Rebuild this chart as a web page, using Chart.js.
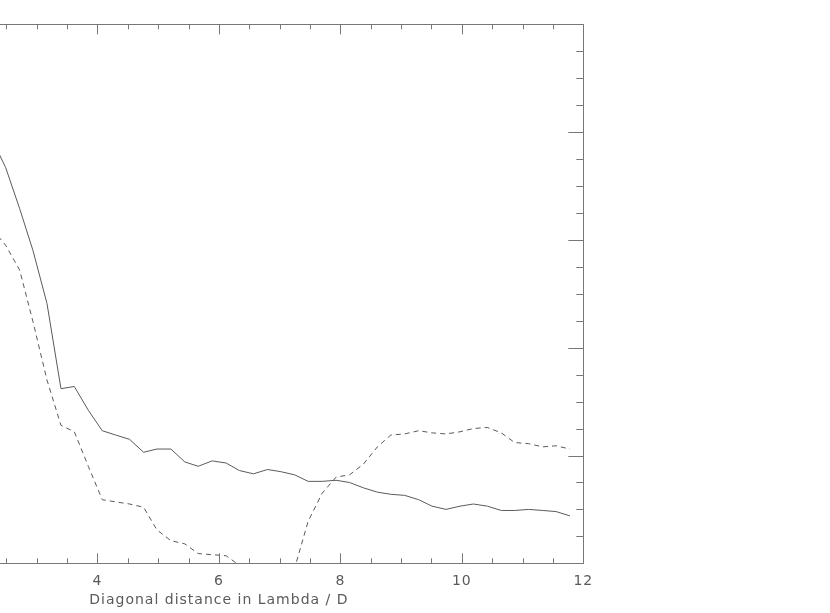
<!DOCTYPE html>
<html>
<head>
<meta charset="utf-8">
<script src="https://cdn.jsdelivr.net/npm/chart.js@4/dist/chart.umd.min.js"></script>
<style>
  html, body { margin: 0; padding: 0; background: #fff; overflow: hidden; }
  #wrap { position: absolute; left: -160px; top: 0; width: 990px; height: 613px; }
</style>
</head>
<body>
<div id="wrap"><canvas id="chart" width="990" height="613"></canvas></div>
<script>
// distance in lambda/D (sample positions)
const distances = [2.27, 2.49, 2.72, 2.94, 3.17, 3.40, 3.62, 3.85, 4.08, 4.30,
  4.53, 4.76, 4.98, 5.21, 5.44, 5.66, 5.89, 6.12, 6.34, 6.57,
  6.80, 7.02, 7.25, 7.47, 7.70, 7.93, 8.15, 8.38, 8.61, 8.83,
  9.06, 9.29, 9.51, 9.74, 9.97, 10.19, 10.42, 10.65, 10.87, 11.10,
  11.33, 11.55, 11.78];

// solid curve
const solidVals = [3.93, 3.67, 3.29, 2.90, 2.41, 1.62, 1.64, 1.42, 1.23, 1.19,
  1.15, 1.03, 1.06, 1.06, 0.94, 0.90, 0.95, 0.93, 0.86, 0.83,
  0.87, 0.85, 0.82, 0.76, 0.76, 0.77, 0.75, 0.70, 0.66, 0.64,
  0.63, 0.59, 0.53, 0.50, 0.53, 0.55, 0.53, 0.49, 0.49, 0.50,
  0.49, 0.48, 0.44];

// dashed curve
const dashedVals = [3.10, 2.95, 2.72, 2.24, 1.70, 1.28, 1.22, 0.90, 0.59, 0.57,
  0.55, 0.52, 0.31, 0.21, 0.18, 0.09, 0.08, 0.07, -0.02, -0.15,
  -0.25, -0.20, -0.04, 0.39, 0.65, 0.80, 0.82, 0.92, 1.08, 1.19,
  1.20, 1.23, 1.21, 1.20, 1.22, 1.25, 1.26, 1.21, 1.12, 1.11,
  1.08, 1.09, 1.06];

const xTickStep = 2;
const xTitle = "Diagonal distance in Lambda / D";

const ink = "#5a5a5a";
const axisInk = "#777";

// wider lettering, closer to the old vector font
const wideText = {
  id: "wideText",
  beforeDraw(chart) { chart.ctx.letterSpacing = "1px"; }
};

/* inward ticks on all four sides, like the old plot */
const frameTicks = {
  id: "frameTicks",
  afterDraw(chart) {
    const { ctx, chartArea: { left, right, top, bottom }, scales: { x, y } } = chart;
    ctx.save();
    ctx.strokeStyle = axisInk;
    ctx.lineWidth = 1;
    ctx.beginPath();
    ctx.rect(Math.round(left) + 0.5, Math.round(top) + 0.5,
      Math.round(right - left), Math.round(bottom - top));
    ctx.stroke();

    ctx.beginPath();
    for (let v = x.min; v <= x.max + 1e-6; v += 0.5) {
      const px = Math.round(x.getPixelForValue(v)) + 0.5;
      const len = Math.abs(v % 2) < 1e-6 ? 10 : 5;
      ctx.moveTo(px, bottom); ctx.lineTo(px, bottom - len);
      ctx.moveTo(px, top); ctx.lineTo(px, top + len);
    }
    for (let v = y.min; v <= y.max + 1e-6; v += 0.25) {
      const py = Math.round(y.getPixelForValue(v)) + 0.5;
      const len = Math.abs(v % 1) < 1e-6 ? 15 : 7;
      ctx.moveTo(right, py); ctx.lineTo(right - len, py);
      ctx.moveTo(left, py); ctx.lineTo(left + len, py);
    }
    ctx.stroke();
    ctx.restore();
  }
};

new Chart(document.getElementById("chart"), {
  type: "line",
  data: {
    datasets: [
      {
        data: distances.map((d, i) => ({ x: d, y: solidVals[i] })),
        borderColor: ink,
        borderWidth: 1,
        pointRadius: 0,
        tension: 0
      },
      {
        data: distances.map((d, i) => ({ x: d, y: dashedVals[i] })),
        borderColor: ink,
        borderWidth: 1,
        borderDash: [5, 4],
        pointRadius: 0,
        tension: 0
      }
    ]
  },
  options: {
    responsive: false,
    devicePixelRatio: 1,
    animation: false,
    layout: { padding: { left: 11.7, right: 246.7, top: 24.3, bottom: 6.1 } },
    plugins: { legend: { display: false }, tooltip: { enabled: false } },
    scales: {
      x: {
        type: "linear",
        min: 0,
        max: 12,
        grid: { display: false, drawTicks: false },
        border: { display: false },
        ticks: {
          stepSize: xTickStep,
          color: ink,
          padding: 10,
          maxRotation: 0,
          font: { family: "DejaVu Sans", size: 14 }
        },
        title: {
          display: true,
          text: xTitle,
          color: ink,
          padding: { top: -8.5, bottom: -1.5 },
          font: { family: "DejaVu Sans", size: 14 }
        }
      },
      y: {
        display: false,
        min: 0,
        max: 5
      }
    }
  },
  plugins: [wideText, frameTicks]
});
</script>
</body>
</html>
